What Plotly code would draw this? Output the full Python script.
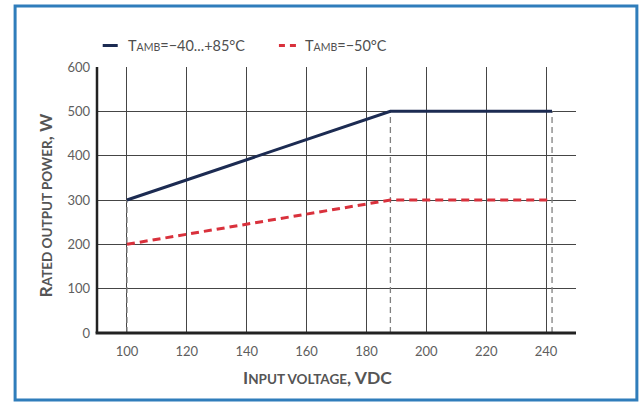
import plotly.graph_objects as go

# ---- data ----
voltage_nominal = [100, 188, 242]
power_nominal = [300, 500, 500]
voltage_cold = [100, 188, 242]
power_cold = [200, 300, 300]
marker_voltages = [100, 188, 242]
marker_tops = [300, 500, 500]
x_ticks = [100, 120, 140, 160, 180, 200, 220, 240]
y_ticks = [0, 100, 200, 300, 400, 500, 600]
legend_labels = ["T<span style='font-size:10.5px'>AMB</span>=−40...+85°C",
                 "T<span style='font-size:10.5px'>AMB</span>=−50°C"]
x_title = "I<span style='font-size:13.5px'>NPUT VOLTAGE</span>, VDC"
y_title = "R<span style='font-size:13.5px'>ATED OUTPUT POWER</span>, W"

W, H = 640, 402
L, R, T, B = 97.3, 575.7, 67.0, 333.3
FONT = "Lato"

def px(xp):
    return (xp - L) / (R - L)

def py(yp):
    return (B - yp) / (B - T)

fig = go.Figure()

# vertical dashed guide lines
vx, vy = [], []
for v, t in zip(marker_voltages, marker_tops):
    vx += [v, v, None]
    vy += [0, t, None]
fig.add_trace(go.Scatter(x=vx, y=vy, mode="lines",
                         line=dict(color="#808080", width=1.3, dash="6px,4px"),
                         showlegend=False, hoverinfo="skip"))

fig.add_trace(go.Scatter(x=voltage_cold, y=power_cold, mode="lines",
                         line=dict(color="#d9313c", width=3, dash="8px,5px"),
                         showlegend=False))
fig.add_trace(go.Scatter(x=voltage_nominal, y=power_nominal, mode="lines",
                         line=dict(color="#1c2b52", width=3),
                         showlegend=False))

shapes = []
# outer blue frame
shapes.append(dict(type="rect", xref="paper", yref="paper",
                   x0=px(15.5), x1=px(636.5), y0=py(400.5), y1=py(6.0),
                   line=dict(color="#2f7dbb", width=3), layer="below"))
# legend samples
ly = py(45.5)
shapes.append(dict(type="line", xref="paper", yref="paper",
                   x0=px(103), x1=px(118), y0=ly, y1=ly,
                   line=dict(color="#1c2b52", width=3)))
shapes.append(dict(type="line", xref="paper", yref="paper",
                   x0=px(279), x1=px(296), y0=ly, y1=ly,
                   line=dict(color="#d9313c", width=3, dash="6px,5px")))

annotations = [
    dict(text=legend_labels[0], xref="paper", yref="paper", x=px(126.5), y=ly,
         xanchor="left", yanchor="middle", showarrow=False,
         font=dict(family=FONT, size=14.5, color="#4f4f4f")),
    dict(text=legend_labels[1], xref="paper", yref="paper", x=px(303.5), y=ly,
         xanchor="left", yanchor="middle", showarrow=False,
         font=dict(family=FONT, size=14.5, color="#4f4f4f")),
    dict(text=x_title, xref="paper", yref="paper", x=px(318), y=py(377.5),
         xanchor="center", yanchor="middle", showarrow=False,
         font=dict(family=FONT, size=17.5, color="#555555", weight="bold")),
    dict(text=y_title, xref="paper", yref="paper", x=px(46), y=py(206),
         xanchor="center", yanchor="middle", showarrow=False, textangle=-90,
         font=dict(family=FONT, size=17.5, color="#555555", weight="bold")),
]

fig.update_layout(
    width=W, height=H,
    margin=dict(l=L, r=W - R, t=T, b=H - B, pad=0),
    paper_bgcolor="white", plot_bgcolor="white",
    shapes=shapes, annotations=annotations,
    showlegend=False,
    xaxis=dict(range=[90, 250], tickvals=x_ticks, ticks="", showgrid=True,
               gridcolor="#454545", gridwidth=1.2, zeroline=False,
               showline=False, ticklabelstandoff=9,
               tickfont=dict(family=FONT, size=13, color="#5e5e5e")),
    yaxis=dict(range=[0, 600], tickvals=y_ticks, ticks="", showgrid=True,
               gridcolor="#454545", gridwidth=1.2, zeroline=False,
               showline=False, ticklabelstandoff=6,
               tickfont=dict(family=FONT, size=13, color="#5e5e5e")),
)

# axis lines (left and bottom) drawn as shapes on top
fig.add_shape(type="line", xref="paper", yref="paper", x0=0, x1=0, y0=0, y1=1,
              line=dict(color="#222222", width=2.5))
fig.add_shape(type="line", xref="paper", yref="paper", x0=-0.003, x1=1, y0=0, y1=0,
              line=dict(color="#222222", width=3))

fig.write_html("out.html",
               config={"displayModeBar": False},
               post_script="document.body.style.margin='0';document.body.style.overflow='hidden';")
